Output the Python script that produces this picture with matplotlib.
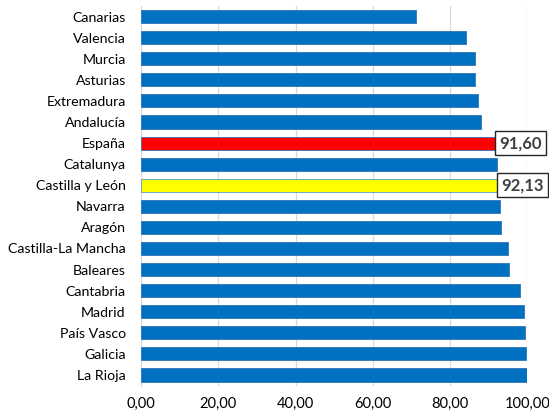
import matplotlib.pyplot as plt
from matplotlib.ticker import FuncFormatter

plt.rcParams['font.family'] = ['Lato', 'DejaVu Sans']

regions = ["Canarias", "Valencia", "Murcia", "Asturias", "Extremadura", "Andalucía",
           "España", "Catalunya", "Castilla y León", "Navarra", "Aragón",
           "Castilla-La Mancha", "Baleares", "Cantabria", "Madrid", "País Vasco",
           "Galicia", "La Rioja"]
values = [71.3, 84.1, 86.4, 86.5, 87.2, 88.0, 91.60, 92.1, 92.13, 92.9, 93.2,
          95.1, 95.3, 98.1, 99.2, 99.5, 99.6, 100.0]
highlight = {"España": "#FF0000", "Castilla y León": "#FFFF00"}
labelled = ["España", "Castilla y León"]

fig = plt.figure(figsize=(5.49, 4.12), dpi=100)
ax = fig.add_axes([0.2568, 0.0643, 0.7037, 0.9211])

colors = [highlight.get(r, "#0070C0") for r in regions]
edges = ["#5B9BD5" if r == "Castilla y León" else "#2E75B6" for r in regions]
bars = ax.barh(regions, values, height=0.62, color=colors, edgecolor=edges, linewidth=0.6, zorder=3)
ax.set_ylim(len(regions) - 0.5, -0.5)
ax.set_xlim(0, 100)
ax.set_xticks([0, 20, 40, 60, 80, 100])
ax.xaxis.set_major_formatter(FuncFormatter(lambda v, p: f"{v:.2f}".replace(".", ",")))
ax.grid(axis="x", color="#D9D9D9", linewidth=0.9, zorder=0)

for s in ["top", "right", "bottom"]:
    ax.spines[s].set_visible(False)
ax.spines["left"].set_color("#D9D9D9")
ax.tick_params(axis="x", length=0, labelsize=10.5, colors="#000000", pad=8)
ax.tick_params(axis="y", length=0, labelsize=10.2, colors="#000000", pad=11)

for bar, r, v in zip(bars, regions, values):
    if r in labelled:
        ax.text(v + 1.1, bar.get_y() + bar.get_height() / 2, f"{v:.2f}".replace(".", ","),
                va="center", ha="left", fontsize=12, fontweight="bold", color="#404040",
                bbox=dict(boxstyle="square,pad=0.25", facecolor="white", edgecolor="#262626", linewidth=1),
                clip_on=False, zorder=5)

fig.savefig("out.png", dpi=100)
